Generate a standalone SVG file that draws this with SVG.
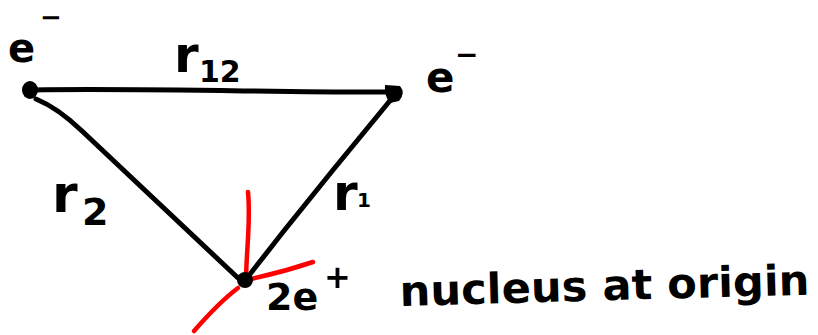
<svg xmlns="http://www.w3.org/2000/svg" width="818" height="335" viewBox="0 0 818 335">
<style>
.k{fill:none;stroke:#000;stroke-width:5;stroke-linecap:round;stroke-linejoin:round}
.r{fill:none;stroke:#f00;stroke-width:4.5;stroke-linecap:round}
.t{font-family:"DejaVu Sans",sans-serif;font-weight:bold;fill:#000}
</style>
<rect width="818" height="335" fill="#fff"/>
<g id="connectors">
<path class="k" d="M33,90 C150,88 300,93 394,92"/>
<path class="k" d="M36,99 Q58,108 82,131 L238,278"/>
<path class="k" d="M393,97 L333,170 L283,232 L247,278"/>
</g>
<g id="origin-axes">
<path class="r" d="M248,192 C251,222 246,252 246,282"/>
<path class="r" d="M246,280 C270,275 295,268 313,262"/>
<path class="r" d="M238,288 C222,300 208,315 194,331"/>
</g>
<g id="electron1">
<ellipse cx="30" cy="90" rx="8" ry="9" fill="#000"/>
<text class="t" x="8" y="62" font-size="40">e</text>
<text class="t" x="40" y="26" font-size="26">−</text>
</g>
<g id="electron2">
<path d="M385,85 L400,86 Q406,93 399,101 L390,103 Q384,96 385,85 Z" fill="#000"/>
<text class="t" x="426" y="92" font-size="42">e</text>
<text class="t" x="455" y="64" font-size="28">−</text>
</g>
<g id="nucleus">
<circle cx="245" cy="280" r="8" fill="#000"/>
<text class="t" x="266" y="310" font-size="38">2e</text>
<text class="t" x="324" y="288" font-size="32">+</text>
</g>
<g id="labels">
<text class="t" x="174" y="72" font-size="50">r</text>
<text class="t" x="199" y="82" font-size="30">12</text>
<text class="t" x="52" y="212" font-size="52">r</text>
<text class="t" x="82" y="225" font-size="38">2</text>
<text class="t" x="333" y="210" font-size="50">r</text>
<text class="t" x="357" y="207" font-size="20">1</text>
<text class="t" x="400" y="306" font-size="42" textLength="410" lengthAdjust="spacingAndGlyphs" transform="rotate(-1.6 400 306)">nucleus at origin</text>
</g>
</svg>
